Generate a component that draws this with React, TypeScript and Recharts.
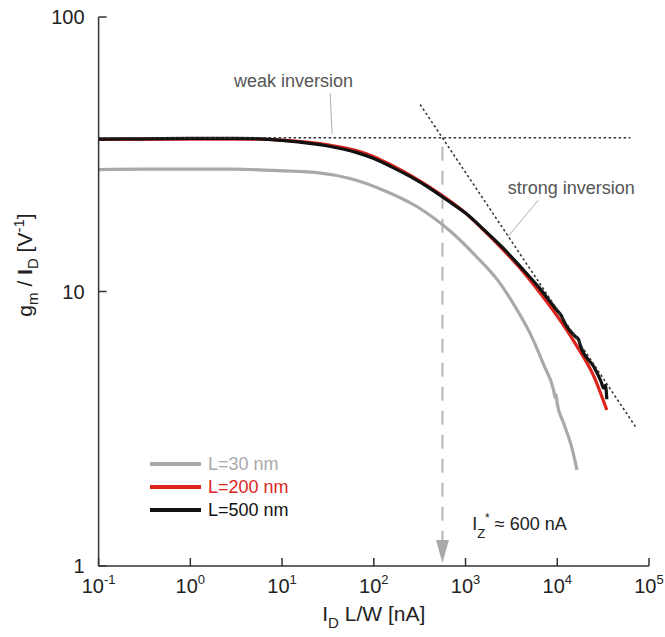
import { LineChart, Line, XAxis, YAxis, ReferenceDot, Legend, Label } from 'recharts'

const xTicks = [0.1, 1, 10, 100, 1000, 10000, 100000]
const yTicks = [1, 10, 100]

// L = 30 nm (grey)
const l30X = [0.1, 0.3, 1, 3, 8, 24, 55, 127, 294, 679, 1260, 2240, 3550, 5010, 7080, 9120, 9500, 9700, 10000, 11750, 14450, 16400]
const l30Y = [27.8, 27.9, 27.9, 27.9, 27.6, 27.1, 25.8, 23.4, 20.4, 16.6, 13.6, 11.0, 8.7, 7.08, 5.43, 4.37, 4.1, 4.2, 3.9, 3.31, 2.69, 2.24]

// L = 200 nm (red)
const l200X = [0.1, 1, 3, 5.75, 10, 31.6, 63, 100, 158, 251, 398, 631, 1000, 1585, 2512, 3981, 6310, 10000, 15850, 25120, 34670]
const l200Y = [35.8, 35.9, 35.9, 35.9, 35.6, 34.2, 32.7, 31.0, 28.8, 26.5, 24.1, 21.7, 19.3, 16.7, 14.3, 12.1, 10.0, 8.13, 6.43, 4.9, 3.7]

// L = 500 nm (black)
const l500X = [0.1, 0.3, 1, 3, 5.75, 10, 31.6, 63, 100, 158, 251, 398, 631, 1000, 1585, 2512, 3981, 6310, 10000, 11000, 12000, 15850, 17000, 18000, 25120, 30000, 32000, 33500, 34670]
const l500Y = [35.9, 36.0, 36.1, 36.1, 36.0, 35.5, 33.9, 32.2, 30.5, 28.4, 26.2, 23.9, 21.5, 19.3, 16.8, 14.5, 12.3, 10.35, 8.51, 8.2, 7.7, 6.84, 6.7, 6.3, 5.31, 4.7, 4.45, 4.55, 4.05]

// asymptotes and annotations
const weakX = [0.1, 62700]
const weakY = [36.3, 36.3]
const strongX = [320, 72000]
const strongY = [48, 3.2]
const izX = [560, 560]
const izY = [33.7, 1.24]
const weakLeaderX = [33.4, 35.1]
const weakLeaderY = [52.8, 37.5]
const strongLeaderX = [6190, 2920]
const strongLeaderY = [21.5, 15.9]

const FONT = '"Liberation Sans", Arial, sans-serif'
const AX = '#333'
const TXT = '#222'
const NOTE = '#555'

const series = [
  { name: 'L=30 nm', color: '#a9a9a9', xs: l30X, ys: l30Y },
  { name: 'L=200 nm', color: '#dc241c', xs: l200X, ys: l200Y },
  { name: 'L=500 nm', color: '#111111', xs: l500X, ys: l500Y },
]

const pts = (xs: number[], ys: number[]) => xs.map((x, i) => ({ x, y: ys[i] }))

const BottomTick = (p: any) => {
  const { x, y, payload } = p
  const e = Math.round(Math.log10(payload.value))
  return (
    <g>
      <line x1={x} x2={x} y1={y} y2={y - 8} stroke={AX} strokeWidth={1.5} />
      <text x={x} y={y + 27} textAnchor="middle" fontSize={20} fill={TXT} fontFamily={FONT}>
        <tspan>10</tspan>
        <tspan dy={-9} fontSize={13}>{e}</tspan>
      </text>
    </g>
  )
}

const TopTick = (p: any) => (
  <line x1={p.x} x2={p.x} y1={p.y} y2={p.y + 8} stroke={AX} strokeWidth={1.5} />
)

const LeftTick = (p: any) => {
  const { x, y, payload } = p
  return (
    <g>
      <line x1={x} x2={x + 8} y1={y} y2={y} stroke={AX} strokeWidth={1.5} />
      <text x={x - 14} y={y + 7} textAnchor="end" fontSize={20} fill={TXT} fontFamily={FONT}>
        {payload.value}
      </text>
    </g>
  )
}

const RightTick = (p: any) => (
  <line x1={p.x} x2={p.x - 8} y1={p.y} y2={p.y} stroke={AX} strokeWidth={1.5} />
)

const XTitle = (p: any) => {
  const vb = p.viewBox
  return (
    <text x={vb.x + vb.width / 2} y={vb.y + 55} textAnchor="middle" fontSize={21} fill={TXT} fontFamily={FONT}>
      <tspan>I</tspan>
      <tspan dy={7} fontSize={15}>D</tspan>
      <tspan dy={-7}> L/W [nA]</tspan>
    </text>
  )
}

const YTitle = () => (
  <text x={32} y={265} transform="rotate(-90, 32, 265)" textAnchor="middle" fontSize={21} fill={TXT} fontFamily={FONT}>
    <tspan>g</tspan>
    <tspan dy={6} fontSize={15}>m</tspan>
    <tspan dy={-6}> / </tspan>
    <tspan fontWeight="bold">I</tspan>
    <tspan dy={6} fontSize={15}>D</tspan>
    <tspan dy={-6}> [V</tspan>
    <tspan dy={-8} fontSize={15}>-1</tspan>
    <tspan dy={8}>]</tspan>
  </text>
)

const LegendBox = () => (
  <div style={{ fontFamily: FONT }}>
    {series.map(s => (
      <div key={s.name} style={{ display: 'flex', alignItems: 'center', height: 23 }}>
        <span style={{ display: 'inline-block', width: 51, height: 3.5, background: s.color, marginRight: 7 }} />
        <span style={{ fontSize: 18, color: s.color }}>{s.name}</span>
      </div>
    ))}
  </div>
)

const noteText = (text: string, anchor: 'middle' | 'start') => (p: any) => (
  <text x={p.cx} y={p.cy} textAnchor={anchor} fontSize={18} fill={NOTE} fontFamily={FONT}>
    {text}
  </text>
)

const IzText = (p: any) => (
  <text x={p.cx} y={p.cy} fontSize={18} fill={TXT} fontFamily={FONT}>
    <tspan>I</tspan>
    <tspan dy={8} fontSize={13}>Z</tspan>
    <tspan dy={-16} fontSize={12}>*</tspan>
    <tspan dy={8}> ≈ 600 nA</tspan>
  </text>
)

const ArrowHead = (p: any) => (
  <polygon
    points={`${p.cx},${p.cy - 3} ${p.cx - 6.5},${p.cy - 26} ${p.cx + 6.5},${p.cy - 26}`}
    fill="#aaaaaa"
  />
)

export default function App() {
  return (
    <div style={{ position: 'absolute', left: 0, top: 0, background: '#fff' }}>
      <LineChart width={665} height={637} margin={{ top: 17, right: 16, left: 0, bottom: 0 }}>
        <XAxis
          dataKey="x" type="number" scale="log" domain={[0.1, 100000]} allowDataOverflow
          ticks={xTicks} interval={0} height={71} tickSize={0} tickMargin={0} tickLine={false}
          tick={BottomTick} axisLine={{ stroke: AX, strokeWidth: 1.5 }}
        >
          <Label content={XTitle} />
        </XAxis>
        <XAxis
          xAxisId="top" orientation="top" dataKey="x" type="number" scale="log" domain={[0.1, 100000]}
          allowDataOverflow ticks={xTicks} interval={0} height={0} tickSize={0} tickMargin={0}
          tickLine={false} tick={TopTick} axisLine={{ stroke: AX, strokeWidth: 1.5 }}
        />
        <YAxis
          type="number" scale="log" domain={[1, 100]} allowDataOverflow ticks={yTicks} interval={0}
          width={98.6} tickSize={0} tickMargin={0} tickLine={false} tick={LeftTick}
          axisLine={{ stroke: AX, strokeWidth: 1.5 }}
        >
          <Label content={YTitle} />
        </YAxis>
        <YAxis
          yAxisId="right" orientation="right" type="number" scale="log" domain={[1, 100]} allowDataOverflow
          ticks={yTicks} interval={0} width={0} tickSize={0} tickMargin={0} tickLine={false}
          tick={RightTick} axisLine={{ stroke: AX, strokeWidth: 1.5 }}
        />

        <Line data={pts(izX, izY)} dataKey="y" type="linear" stroke="#b5b5b5" strokeWidth={2}
          strokeDasharray="14 10" dot={false} isAnimationActive={false} legendType="none" />
        <Line data={pts(weakLeaderX, weakLeaderY)} dataKey="y" type="linear" stroke="#999" strokeWidth={0.8}
          dot={false} isAnimationActive={false} legendType="none" />
        <Line data={pts(strongLeaderX, strongLeaderY)} dataKey="y" type="linear" stroke="#999" strokeWidth={0.8}
          dot={false} isAnimationActive={false} legendType="none" />

        {series.map(s => (
          <Line key={s.name} name={s.name} data={pts(s.xs, s.ys)} dataKey="y" type="monotone"
            stroke={s.color} strokeWidth={3.2} dot={false} isAnimationActive={false} />
        ))}

        <Line data={pts(weakX, weakY)} dataKey="y" type="linear" stroke="#333" strokeWidth={1.5}
          strokeDasharray="2.5 2.5" dot={false} isAnimationActive={false} legendType="none" />
        <Line data={pts(strongX, strongY)} dataKey="y" type="linear" stroke="#333" strokeWidth={1.5}
          strokeDasharray="2.5 2.5" dot={false} isAnimationActive={false} legendType="none" />

        <ReferenceDot x={560} y={1} r={0} ifOverflow="visible" shape={ArrowHead} />
        <ReferenceDot x={13.3} y={55.6} r={0} ifOverflow="visible" shape={noteText('weak inversion', 'middle')} />
        <ReferenceDot x={14200} y={22.6} r={0} ifOverflow="visible" shape={noteText('strong inversion', 'middle')} />
        <ReferenceDot x={1180} y={1.35} r={0} ifOverflow="visible" shape={IzText} />

        <Legend
          layout="vertical" align="center" verticalAlign="middle" content={LegendBox}
          wrapperStyle={{ position: 'absolute', left: 150, top: 452.5, width: 200, height: 70 }}
        />
      </LineChart>
    </div>
  )
}
